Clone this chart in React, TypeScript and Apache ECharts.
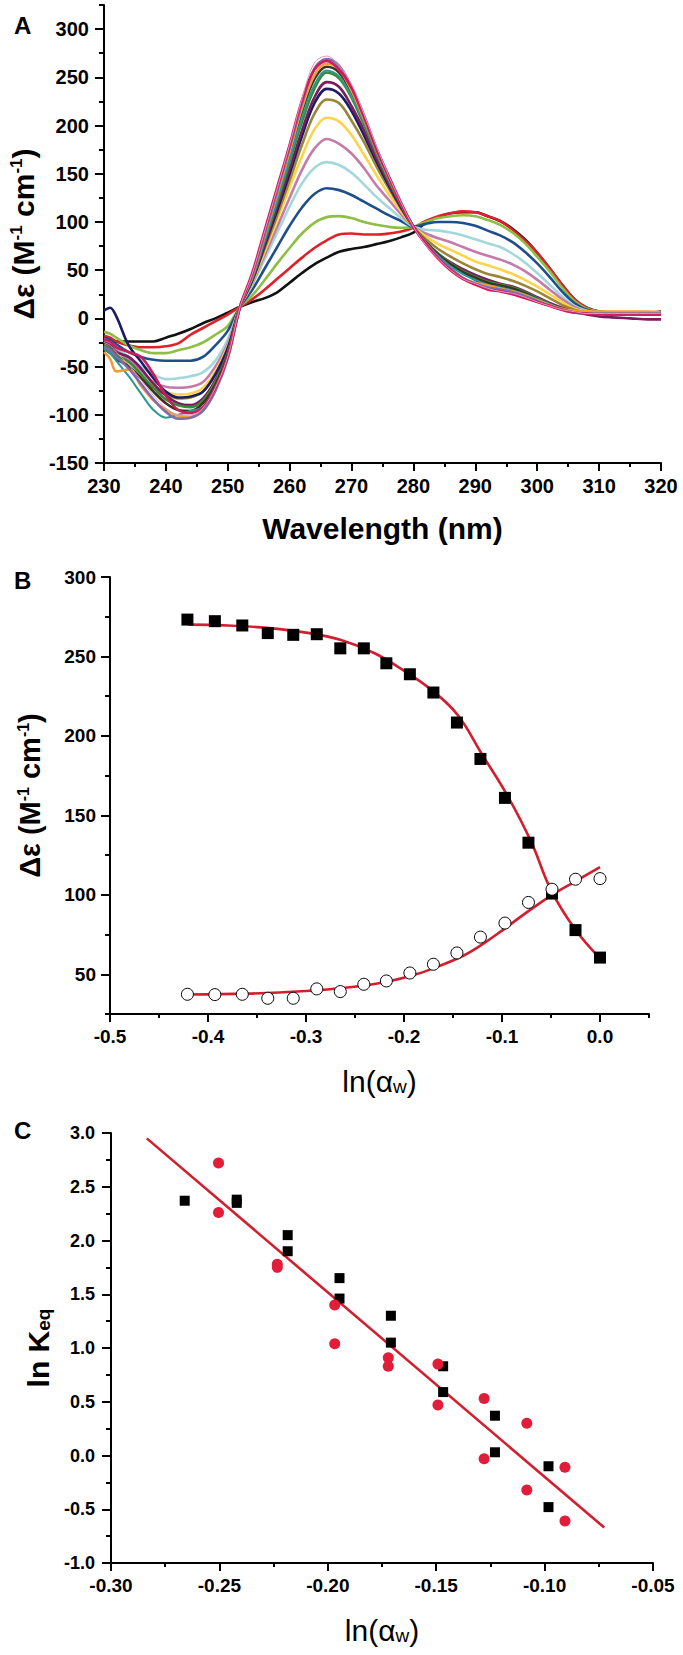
import React, { useEffect, useRef } from "react";
import * as echarts from "echarts";

// ---------------- Panel A: CD spectra ----------------
const WL = [230, 231, 232, 234, 236, 238, 240, 242, 244, 246, 248, 250, 252, 254, 256, 258, 260, 262, 264, 266, 268, 270, 272, 274, 276, 278, 280, 282, 284, 286, 288, 290, 292, 294, 296, 298, 300, 302, 304, 306, 308, 310, 312, 315, 318, 320];

const S_BLACK = [-23, -23, -24, -24, -24, -24, -20, -16, -11, -5, 0, 6, 12, 17, 21, 27, 37, 47, 56, 63, 69, 72, 74, 77, 80, 84, 89, 99, 105, 109, 110, 110, 106, 101, 93, 82, 68, 52, 35, 20, 11, 7, 6, 6, 6, 7];
const S_RED = [-18, -20, -24, -28, -30, -30, -29, -26, -17, -10, -3, 4, 12, 20, 30, 41, 52, 63, 73, 81, 87, 88, 87, 87, 88, 90, 94, 101, 106, 109, 111, 110, 106, 101, 92, 81, 68, 52, 35, 20, 11, 7, 6, 5, 5, 5];
const S_YGREEN = [-14, -16, -20, -28, -33, -36, -36, -33, -30, -25, -17, -8, 12, 24, 40, 57, 73, 88, 99, 105, 106, 104, 100, 97, 95, 94, 95, 100, 104, 106, 107, 106, 102, 97, 89, 78, 64, 49, 32, 18, 10, 7, 6, 5, 5, 5];
const S_BLUE = [-20, -22, -27, -35, -40, -43, -44, -44, -44, -40, -28, -13, 12, 30, 52, 74, 96, 115, 129, 135, 133, 128, 121, 114, 107, 101, 95, 98, 100, 100, 99, 96, 91, 86, 79, 69, 57, 43, 28, 16, 9, 6, 5, 5, 5, 5];
const S_CYAN = [-22, -25, -30, -40, -50, -58, -63, -62, -60, -56, -44, -22, 12, 35, 62, 89, 116, 140, 156, 162, 159, 151, 139, 126, 115, 104, 95, 92, 91, 89, 86, 82, 78, 74, 67, 58, 47, 35, 23, 13, 8, 6, 5, 5, 5, 5];
const S_MAUVE = [-24, -27, -33, -43, -55, -66, -71, -72, -71, -66, -50, -26, 12, 37, 66, 95, 125, 154, 176, 186, 181, 171, 156, 138, 123, 108, 95, 88, 83, 79, 74, 69, 65, 61, 56, 49, 40, 30, 20, 12, 7, 5, 5, 5, 4, 4];
const S_YELLOW = [-28, -31, -38, -48, -60, -70, -76, -79, -78, -72, -55, -29, 12, 38, 70, 102, 136, 168, 196, 208, 204, 190, 170, 149, 129, 111, 95, 85, 77, 71, 65, 59, 55, 51, 46, 40, 33, 25, 17, 10, 7, 5, 5, 5, 5, 5];
const S_OLIVE = [-30, -34, -40, -50, -62, -72, -79, -83, -82, -76, -58, -31, 12, 39, 73, 107, 143, 180, 212, 227, 223, 205, 183, 158, 135, 114, 95, 82, 72, 64, 57, 51, 46, 43, 39, 34, 28, 21, 14, 9, 6, 5, 5, 5, 5, 5];
const S_NAVY = [8, 11, 2, -28, -45, -62, -76, -82, -81, -76, -58, -31, 12, 40, 76, 112, 150, 189, 223, 238, 233, 215, 190, 163, 138, 115, 95, 78, 66, 56, 47, 40, 33, 29, 27, 24, 20, 15, 10, 7, 5, 5, 4, 4, 4, 4];
const S_DMAGENTA = [-25, -28, -35, -40, -52, -68, -80, -88, -90, -83, -64, -35, 12, 41, 78, 116, 155, 195, 229, 245, 240, 220, 195, 166, 140, 116, 95, 79, 67, 58, 51, 45, 40, 36, 33, 28, 22, 16, 11, 7, 4, 2, 1, 0, -1, -1];
const S_GREEN = [-28, -31, -38, -45, -58, -72, -84, -90, -92, -85, -66, -36, 12, 42, 81, 121, 162, 204, 238, 255, 249, 229, 201, 171, 143, 118, 95, 79, 67, 57, 49, 43, 38, 35, 32, 27, 21, 15, 10, 7, 6, 5, 4, 4, 4, 4];
const S_DOLIVE = [-32, -36, -42, -50, -62, -76, -88, -95, -96, -88, -69, -38, 12, 43, 84, 126, 170, 214, 248, 261, 255, 234, 205, 173, 145, 118, 95, 79, 66, 56, 48, 42, 37, 34, 31, 26, 20, 15, 10, 7, 6, 5, 5, 5, 5, 5];
const S_TEAL = [-32, -36, -44, -60, -78, -95, -103, -100, -96, -92, -72, -40, 12, 42, 82, 123, 165, 208, 242, 257, 251, 230, 203, 172, 144, 118, 95, 78, 65, 54, 46, 40, 35, 32, 29, 25, 20, 15, 10, 7, 6, 5, 5, 5, 5, 5];
const S_ORANGE = [-35, -42, -55, -53, -70, -85, -95, -101, -102, -95, -75, -42, 12, 44, 86, 129, 173, 218, 252, 264, 258, 236, 207, 175, 146, 119, 95, 78, 63, 50, 41, 37, 34, 31, 28, 24, 19, 14, 10, 8, 7, 7, 7, 7, 7, 6];
const S_LAVENDER = [-30, -33, -40, -52, -68, -84, -97, -104, -103, -96, -75, -41, 12, 45, 88, 132, 177, 223, 259, 269, 262, 240, 211, 177, 148, 120, 95, 78, 64, 52, 42, 36, 32, 30, 27, 23, 18, 13, 9, 6, 5, 5, 5, 5, 5, 5];
const S_CRIMSON = [-22, -24, -30, -35, -40, -58, -80, -95, -98, -92, -72, -40, 12, 48, 92, 136, 180, 226, 258, 267, 258, 239, 209, 176, 147, 119, 95, 77, 62, 50, 41, 35, 30, 28, 25, 21, 17, 13, 9, 6, 5, 4, 4, 4, 4, 4];
const S_PINK = [-25, -28, -35, -48, -64, -80, -93, -100, -100, -93, -72, -40, 12, 47, 91, 135, 180, 228, 265, 272, 262, 243, 212, 179, 148, 120, 95, 76, 62, 50, 41, 36, 31, 28, 26, 22, 17, 13, 9, 7, 5, 5, 5, 5, 5, 5];

const SPECTRA = [
  { color: "#111111", width: 2.6, data: S_BLACK },
  { color: "#e0202a", width: 2.6, data: S_RED },
  { color: "#8dbf45", width: 2.6, data: S_YGREEN },
  { color: "#1f4e8c", width: 2.6, data: S_BLUE },
  { color: "#a3d8da", width: 2.6, data: S_CYAN },
  { color: "#c47ba9", width: 2.6, data: S_MAUVE },
  { color: "#fbd44b", width: 2.6, data: S_YELLOW },
  { color: "#9b8536", width: 2.6, data: S_OLIVE },
  { color: "#1c1c66", width: 2.6, data: S_NAVY },
  { color: "#7b1c5e", width: 2.6, data: S_DMAGENTA },
  { color: "#3b8a3b", width: 2.6, data: S_GREEN },
  { color: "#3a3422", width: 2.6, data: S_DOLIVE },
  { color: "#2b9b8f", width: 2.0, data: S_TEAL },
  { color: "#f39b36", width: 2.6, data: S_ORANGE },
  { color: "#7e6cb2", width: 2.6, data: S_LAVENDER },
  { color: "#cd1c5d", width: 2.6, data: S_CRIMSON },
  { color: "#e696bb", width: 1.0, data: S_PINK },
];

const A_X_MAJOR = [230, 240, 250, 260, 270, 280, 290, 300, 310, 320];
const A_X_MINOR = [235, 245, 255, 265, 275, 285, 295, 305, 315];
const A_Y_MAJOR = [-150, -100, -50, 0, 50, 100, 150, 200, 250, 300];
const A_Y_MINOR = [-125, -75, -25, 25, 75, 125, 175, 225, 275, 325];

// ---------------- Panel B ----------------
const B_X = [-0.421, -0.393, -0.365, -0.339, -0.313, -0.289, -0.265, -0.241, -0.218, -0.194, -0.17, -0.146, -0.122, -0.097, -0.073, -0.049, -0.025, 0.0];
const B_SQUARES = [273.2, 272.2, 269.5, 264.7, 263.6, 264.0, 255.1, 255.1, 245.7, 238.8, 227.3, 208.4, 185.5, 161.0, 132.8, 100.8, 77.8, 60.5];
const B_CIRCLES = [37.4, 37.2, 37.4, 34.9, 34.9, 40.8, 39.1, 43.7, 45.8, 50.8, 56.3, 63.4, 73.4, 82.2, 95.2, 103.5, 109.8, 110.2];
const B_FIT_SQ_X = [-0.42, -0.38, -0.34, -0.3, -0.265, -0.23, -0.2, -0.17, -0.145, -0.12, -0.095, -0.07, -0.05, -0.025, 0.0];
const B_FIT_SQ_Y = [270, 269.5, 268, 265, 260.5, 252, 241, 228, 213, 188, 163, 133, 103, 78, 60];
const B_FIT_CI_X = [-0.42, -0.36, -0.3, -0.26, -0.22, -0.19, -0.167, -0.14, -0.122, -0.1, -0.078, -0.05, -0.025, 0.0];
const B_FIT_CI_Y = [37.3, 37.8, 39.5, 41.5, 45, 49.5, 54.5, 61.5, 68, 77.5, 87.5, 99.5, 108.5, 117.5];

const B_X_MAJOR = [-0.5, -0.4, -0.3, -0.2, -0.1, 0.0];
const B_X_MINOR = [-0.45, -0.35, -0.25, -0.15, -0.05, 0.05];
const B_Y_MAJOR = [50, 100, 150, 200, 250, 300];
const B_Y_MINOR = [25, 75, 125, 175, 225, 275];

// ---------------- Panel C ----------------
const C_SQ_X = [-0.266, -0.242, -0.242, -0.2185, -0.2185, -0.1946, -0.1946, -0.1709, -0.1709, -0.1468, -0.1468, -0.1229, -0.1229, -0.0982, -0.0982];
const C_SQ_Y = [2.37, 2.38, 2.35, 2.05, 1.9, 1.65, 1.46, 1.3, 1.05, 0.83, 0.59, 0.37, 0.03, -0.1, -0.48];
const C_CI_X = [-0.2504, -0.2504, -0.2233, -0.2233, -0.1968, -0.1968, -0.1721, -0.1721, -0.1492, -0.1492, -0.1279, -0.1279, -0.1082, -0.1082, -0.0906, -0.0906];
const C_CI_Y = [2.72, 2.26, 1.78, 1.75, 1.4, 1.04, 0.91, 0.83, 0.85, 0.47, 0.53, -0.03, 0.3, -0.32, -0.11, -0.61];
const C_FIT_X = [-0.2835, -0.0725];
const C_FIT_Y = [2.95, -0.67];

const C_X_MAJOR = [-0.3, -0.25, -0.2, -0.15, -0.1, -0.05];
const C_X_MINOR = [-0.275, -0.225, -0.175, -0.125, -0.075];
const C_Y_MAJOR = [-1.0, -0.5, 0.0, 0.5, 1.0, 1.5, 2.0, 2.5, 3.0];
const C_Y_MINOR = [-0.75, -0.25, 0.25, 0.75, 1.25, 1.75, 2.25, 2.75];

const FONT = '"Liberation Sans", Arial, Helvetica, sans-serif';
const AX = { color: "#000", width: 2 };

function xPair(grid: number, min: number, max: number, majors: number[], minors: number[], fmt: (v: number) => string, fs: number, margin: number, name: string, nameGap: number, rich: any) {
  return [
    {
      type: "value", gridIndex: grid, min, max, position: "bottom",
      axisLine: { show: true, onZero: false, lineStyle: AX },
      axisTick: { show: true, length: 8, lineStyle: AX, customValues: majors },
      axisLabel: { customValues: majors, formatter: fmt, fontSize: fs, fontWeight: "bold", color: "#000", margin, fontFamily: FONT },
      splitLine: { show: false },
      name, nameLocation: "middle", nameGap, nameTextStyle: { rich },
    },
    {
      type: "value", gridIndex: grid, min, max, position: "bottom",
      axisLine: { show: false, onZero: false },
      axisTick: { show: true, length: 4, lineStyle: AX, customValues: minors },
      axisLabel: { show: false },
      splitLine: { show: false },
    },
  ];
}

function yPair(grid: number, min: number, max: number, majors: number[], minors: number[], fmt: (v: number) => string, fs: number, margin: number, name: string, nameGap: number, rich: any) {
  return [
    {
      type: "value", gridIndex: grid, min, max, position: "left",
      axisLine: { show: true, onZero: false, lineStyle: AX },
      axisTick: { show: true, length: 9, lineStyle: AX, customValues: majors },
      axisLabel: { customValues: majors, formatter: fmt, fontSize: fs, fontWeight: "bold", color: "#000", margin, fontFamily: FONT },
      splitLine: { show: false },
      name, nameLocation: "middle", nameGap, nameRotate: 90, nameTextStyle: { rich },
    },
    {
      type: "value", gridIndex: grid, min, max, position: "left",
      axisLine: { show: false, onZero: false },
      axisTick: { show: true, length: 5, lineStyle: AX, customValues: minors },
      axisLabel: { show: false },
      splitLine: { show: false },
    },
  ];
}

const bold = (fs: number) => ({ fontSize: fs, fontWeight: "bold", color: "#000", fontFamily: FONT });

export default function App() {
  const ref = useRef<HTMLDivElement>(null);
  useEffect(() => {
    if (!ref.current) return;
    const chart = echarts.init(ref.current, null, { renderer: "svg" });

    const intFmt = (v: number) => (Math.abs(v % 50) < 1e-6 ? String(Math.round(v)) : "");
    const f1 = (v: number) => v.toFixed(1);
    const f2 = (v: number) => v.toFixed(2);

    const richDeps = {
      t: bold(30),
      s: { fontSize: 17, fontWeight: "bold", color: "#000", fontFamily: FONT, verticalAlign: "top" },
    };
    const richDepsB = {
      t: bold(29),
      s: { fontSize: 16, fontWeight: "bold", color: "#000", fontFamily: FONT, verticalAlign: "top" },
    };
    const richAlpha = {
      t: { fontSize: 30, color: "#000", fontFamily: FONT },
      u: { fontSize: 19, color: "#000", fontFamily: FONT, verticalAlign: "bottom" },
    };
    const richK = {
      t: bold(30),
      u: { fontSize: 19, fontWeight: "bold", color: "#000", fontFamily: FONT, verticalAlign: "bottom" },
    };
    const richWave = { t: bold(30) };

    const xAxes = [
      ...xPair(0, 230, 320, A_X_MAJOR, A_X_MINOR, (v) => String(Math.round(v)), 20, 13, "{t|Wavelength (nm)}", 50, richWave),
      ...xPair(1, -0.5, 0.05, B_X_MAJOR, B_X_MINOR, f1, 19, 13, "{t|ln(α}{u|w}{t|)}", 52, richAlpha),
      ...xPair(2, -0.3, -0.05, C_X_MAJOR, C_X_MINOR, f2, 19, 13, "{t|ln(α}{u|w}{t|)}", 52, richAlpha),
    ];
    const yAxes = [
      ...yPair(0, -150, 325, A_Y_MAJOR, A_Y_MINOR, intFmt, 20, 15, "{t|Δε (M}{s|-1}{t| cm}{s|-1}{t|)}", 62, richDeps),
      ...yPair(1, 25, 300, B_Y_MAJOR, B_Y_MINOR, intFmt, 19, 14, "{t|Δε (M}{s|-1}{t| cm}{s|-1}{t|)}", 66, richDepsB),
      ...yPair(2, -1, 3, C_Y_MAJOR, C_Y_MINOR, f1, 18, 16, "{t|ln K}{u|eq}", 58, richK),
    ];

    const series: any[] = SPECTRA.map((s, k) => ({
      type: "line",
      xAxisIndex: 0,
      yAxisIndex: 0,
      data: WL.map((w, i) => [w, s.data[i]]),
      showSymbol: false,
      symbol: "none",
      smooth: 0.35,
      lineStyle: { color: s.color, width: s.width },
      z: 2 + k,
      silent: true,
    }));

    const RED = "#d21f2f";
    series.push(
      { type: "line", xAxisIndex: 2, yAxisIndex: 2, data: B_FIT_SQ_X.map((x, i) => [x, B_FIT_SQ_Y[i]]), showSymbol: false, symbol: "none", smooth: 0.4, lineStyle: { color: RED, width: 2.6 }, z: 3 },
      { type: "line", xAxisIndex: 2, yAxisIndex: 2, data: B_FIT_CI_X.map((x, i) => [x, B_FIT_CI_Y[i]]), showSymbol: false, symbol: "none", smooth: 0.4, lineStyle: { color: RED, width: 2.6 }, z: 3 },
      { type: "scatter", xAxisIndex: 2, yAxisIndex: 2, data: B_X.map((x, i) => [x, B_SQUARES[i]]), symbol: "rect", symbolSize: 12, itemStyle: { color: "#000", opacity: 1 }, z: 5 },
      { type: "scatter", xAxisIndex: 2, yAxisIndex: 2, data: B_X.map((x, i) => [x, B_CIRCLES[i]]), symbol: "circle", symbolSize: 12, itemStyle: { color: "#fff", borderColor: "#000", borderWidth: 1, opacity: 1 }, z: 5 },
      { type: "line", xAxisIndex: 4, yAxisIndex: 4, data: C_FIT_X.map((x, i) => [x, C_FIT_Y[i]]), showSymbol: false, symbol: "none", lineStyle: { color: RED, width: 2.6 }, z: 3 },
      { type: "scatter", xAxisIndex: 4, yAxisIndex: 4, data: C_SQ_X.map((x, i) => [x, C_SQ_Y[i]]), symbol: "rect", symbolSize: 10, itemStyle: { color: "#000", opacity: 1 }, z: 5 },
      { type: "scatter", xAxisIndex: 4, yAxisIndex: 4, data: C_CI_X.map((x, i) => [x, C_CI_Y[i]]), symbol: "circle", symbolSize: 11, itemStyle: { color: "#e11d3a", opacity: 1 }, z: 5 }
    );

    const fixedX = xAxes.map((a: any, i: number) => ({ ...a, gridIndex: Math.floor(i / 2) }));
    const fixedY = yAxes.map((a: any, i: number) => ({ ...a, gridIndex: Math.floor(i / 2) }));

    chart.setOption({
      animation: false,
      backgroundColor: "#ffffff",
      textStyle: { fontFamily: FONT },
      title: [
        { text: "A", left: 9, top: 8, textStyle: bold(24) },
        { text: "B", left: 9, top: 563, textStyle: bold(24) },
        { text: "C", left: 9, top: 1113, textStyle: bold(24) },
      ],
      grid: [
        { left: 101, top: 5, width: 560, height: 458, containLabel: false },
        { left: 110, top: 577, width: 539, height: 437, containLabel: false },
        { left: 111, top: 1133, width: 542, height: 430, containLabel: false },
      ],
      xAxis: fixedX,
      yAxis: fixedY,
      series,
    });
    return () => chart.dispose();
  }, []);
  return <div ref={ref} style={{ position: "absolute", left: 0, top: 0, width: 683, height: 1655 }} />;
}
